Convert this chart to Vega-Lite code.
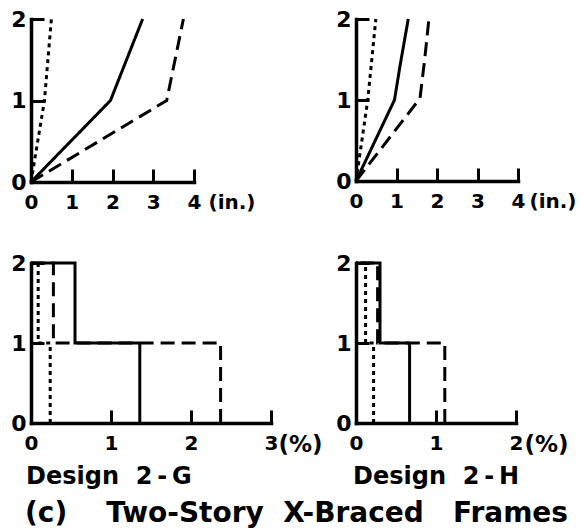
{
  "$schema": "https://vega.github.io/schema/vega-lite/v6.json",
  "background": "white",
  "padding": {"left": 10, "top": 8, "right": 4, "bottom": 0},
  "bounds": "flush",
  "columns": 2,
  "spacing": {"row": 81, "column": 85},
  "config": {
    "view": {"stroke": null},
    "axis": {
      "domainColor": "black", "domainWidth": 3.5, "domainCap": "square",
      "tickColor": "black", "tickWidth": 3, "tickSize": -13,
      "labelColor": "black", "labelFont": "DejaVu Sans", "labelFontSize": 20, "labelFontWeight": "bold",
      "labelFlush": false, "labelOverlap": false,
      "format": "d",
      "grid": false,
      "titleColor": "black", "titleFont": "DejaVu Sans", "titleFontSize": 20, "titleFontWeight": "bold"
    },
    "axisX": {"labelPadding": 23},
    "axisY": {"labelPadding": 18, "labelFontSize": 22},
    "title": {"color": "black", "font": "DejaVu Sans", "fontWeight": "bold"}
  },
  "title": {"text": "(c)\u00a0\u00a0\u00a0\u00a0Two-Story\u00a0\u00a0X-Braced\u00a0\u00a0\u00a0Frames", "orient": "bottom", "anchor": "start", "frame": "group", "dx": -6, "fontSize": 28, "offset": 11},
  "datasets": {
    "disp": [
      {"design": "2-G", "series": "dotted", "order": 0, "x": 0, "y": 0},
      {"design": "2-G", "series": "dotted", "order": 1, "x": 0.33, "y": 1},
      {"design": "2-G", "series": "dotted", "order": 2, "x": 0.5, "y": 2},
      {"design": "2-G", "series": "dashed", "order": 0, "x": 0, "y": 0},
      {"design": "2-G", "series": "dashed", "order": 1, "x": 3.33, "y": 1},
      {"design": "2-G", "series": "dashed", "order": 2, "x": 3.74, "y": 2},
      {"design": "2-G", "series": "solid", "order": 0, "x": 0, "y": 0},
      {"design": "2-G", "series": "solid", "order": 1, "x": 1.95, "y": 1},
      {"design": "2-G", "series": "solid", "order": 2, "x": 2.74, "y": 2},
      {"design": "2-H", "series": "dotted", "order": 0, "x": 0, "y": 0},
      {"design": "2-H", "series": "dotted", "order": 1, "x": 0.29, "y": 1},
      {"design": "2-H", "series": "dotted", "order": 2, "x": 0.49, "y": 2},
      {"design": "2-H", "series": "dashed", "order": 0, "x": 0, "y": 0},
      {"design": "2-H", "series": "dashed", "order": 1, "x": 1.58, "y": 1.02},
      {"design": "2-H", "series": "dashed", "order": 2, "x": 1.7, "y": 1.52},
      {"design": "2-H", "series": "dashed", "order": 3, "x": 1.8, "y": 2},
      {"design": "2-H", "series": "solid", "order": 0, "x": 0, "y": 0},
      {"design": "2-H", "series": "solid", "order": 1, "x": 0.95, "y": 1},
      {"design": "2-H", "series": "solid", "order": 2, "x": 1.09, "y": 1.43},
      {"design": "2-H", "series": "solid", "order": 3, "x": 1.29, "y": 2}
    ],
    "drift": [
      {"design": "2-G", "series": "dotted", "order": 0, "x": 0.24, "y": 0},
      {"design": "2-G", "series": "dotted", "order": 1, "x": 0.24, "y": 1},
      {"design": "2-G", "series": "dotted", "order": 2, "x": 0.09, "y": 1},
      {"design": "2-G", "series": "dotted", "order": 3, "x": 0.09, "y": 2},
      {"design": "2-G", "series": "dotted", "order": 4, "x": 0, "y": 2},
      {"design": "2-G", "series": "dashed", "order": 0, "x": 2.37, "y": 0},
      {"design": "2-G", "series": "dashed", "order": 1, "x": 2.37, "y": 1},
      {"design": "2-G", "series": "dashed", "order": 2, "x": 0.28, "y": 1},
      {"design": "2-G", "series": "dashed", "order": 3, "x": 0.28, "y": 2},
      {"design": "2-G", "series": "dashed", "order": 4, "x": 0, "y": 2},
      {"design": "2-G", "series": "solid", "order": 0, "x": 1.36, "y": 0},
      {"design": "2-G", "series": "solid", "order": 1, "x": 1.36, "y": 1},
      {"design": "2-G", "series": "solid", "order": 2, "x": 0.55, "y": 1},
      {"design": "2-G", "series": "solid", "order": 3, "x": 0.55, "y": 2},
      {"design": "2-G", "series": "solid", "order": 4, "x": 0, "y": 2},
      {"design": "2-H", "series": "dotted", "order": 0, "x": 0.22, "y": 0},
      {"design": "2-H", "series": "dotted", "order": 1, "x": 0.22, "y": 1},
      {"design": "2-H", "series": "dotted", "order": 2, "x": 0.12, "y": 1},
      {"design": "2-H", "series": "dotted", "order": 3, "x": 0.12, "y": 2},
      {"design": "2-H", "series": "dotted", "order": 4, "x": 0, "y": 2},
      {"design": "2-H", "series": "dashed", "order": 0, "x": 1.11, "y": 0},
      {"design": "2-H", "series": "dashed", "order": 1, "x": 1.11, "y": 1},
      {"design": "2-H", "series": "dashed", "order": 2, "x": 0.27, "y": 1},
      {"design": "2-H", "series": "dashed", "order": 3, "x": 0.27, "y": 2},
      {"design": "2-H", "series": "dashed", "order": 4, "x": 0, "y": 2},
      {"design": "2-H", "series": "solid", "order": 0, "x": 0.67, "y": 0},
      {"design": "2-H", "series": "solid", "order": 1, "x": 0.67, "y": 1},
      {"design": "2-H", "series": "solid", "order": 2, "x": 0.3, "y": 1},
      {"design": "2-H", "series": "solid", "order": 3, "x": 0.3, "y": 2},
      {"design": "2-H", "series": "solid", "order": 4, "x": 0, "y": 2}
    ]
  },
  "concat": [
    {
      "width": 163, "height": 163,
      "data": {"name": "disp"},
      "transform": [{"filter": "datum.design == '2-G'"}],
      "mark": {"type": "line", "color": "black", "strokeWidth": 3, "clip": false},
      "encoding": {
        "x": {"field": "x", "type": "quantitative", "scale": {"domain": [0, 4], "nice": false},
              "axis": {"values": [0, 1, 2, 3, 4], "title": "(in.)", "titleX": 177, "titleY": 10, "titleAlign": "left", "titleBaseline": "top", "titleAngle": 0}},
        "y": {"field": "y", "type": "quantitative", "scale": {"domain": [0, 2], "nice": false},
              "axis": {"values": [0, 1, 2], "title": null}},
        "strokeDash": {"field": "series", "type": "nominal", "scale": {"domain": ["solid", "dashed", "dotted"], "range": [[1, 0], [14, 7], [4, 4]]}, "legend": null},
        "order": {"field": "order", "type": "quantitative"}
      }
    },
    {
      "width": 162, "height": 162,
      "data": {"name": "disp"},
      "transform": [{"filter": "datum.design == '2-H'"}],
      "mark": {"type": "line", "color": "black", "strokeWidth": 3, "clip": false},
      "encoding": {
        "x": {"field": "x", "type": "quantitative", "scale": {"domain": [0, 4], "nice": false},
              "axis": {"values": [0, 1, 2, 3, 4], "title": "(in.)", "titleX": 173, "titleY": 10, "titleAlign": "left", "titleBaseline": "top", "titleAngle": 0}},
        "y": {"field": "y", "type": "quantitative", "scale": {"domain": [0, 2], "nice": false},
              "axis": {"values": [0, 1, 2], "title": null}},
        "strokeDash": {"field": "series", "type": "nominal", "scale": {"domain": ["solid", "dashed", "dotted"], "range": [[1, 0], [14, 7], [4, 4]]}, "legend": null},
        "order": {"field": "order", "type": "quantitative"}
      }
    },
    {
      "width": 240, "height": 160,
      "title": {"text": "Design\u00a0\u00a02\u2009-\u2009G", "orient": "bottom", "anchor": "start", "frame": "group", "dx": -5, "fontSize": 24, "offset": 9},
      "data": {"name": "drift"},
      "transform": [{"filter": "datum.design == '2-G'"}],
      "mark": {"type": "line", "color": "black", "strokeWidth": 3, "clip": false},
      "encoding": {
        "x": {"field": "x", "type": "quantitative", "scale": {"domain": [0, 3], "nice": false},
              "axis": {"values": [0, 1, 2, 3], "title": "(%)", "titleX": 247, "titleY": 10, "titleAlign": "left", "titleBaseline": "top", "titleAngle": 0, "titleFontSize": 23}},
        "y": {"field": "y", "type": "quantitative", "scale": {"domain": [0, 2], "nice": false},
              "axis": {"values": [0, 1, 2], "title": null}},
        "strokeDash": {"field": "series", "type": "nominal", "scale": {"domain": ["solid", "dashed", "dotted"], "range": [[1, 0], [14, 7], [4, 4]]}, "legend": null},
        "order": {"field": "order", "type": "quantitative"}
      }
    },
    {
      "width": 160, "height": 160,
      "title": {"text": "Design\u00a0\u00a02\u2009-\u2009H", "orient": "bottom", "anchor": "start", "frame": "group", "dx": -3, "fontSize": 24, "offset": 9},
      "data": {"name": "drift"},
      "transform": [{"filter": "datum.design == '2-H'"}],
      "mark": {"type": "line", "color": "black", "strokeWidth": 3, "clip": false},
      "encoding": {
        "x": {"field": "x", "type": "quantitative", "scale": {"domain": [0, 2], "nice": false},
              "axis": {"values": [0, 1, 2], "title": "(%)", "titleX": 168, "titleY": 10, "titleAlign": "left", "titleBaseline": "top", "titleAngle": 0, "titleFontSize": 23}},
        "y": {"field": "y", "type": "quantitative", "scale": {"domain": [0, 2], "nice": false},
              "axis": {"values": [0, 1, 2], "title": null}},
        "strokeDash": {"field": "series", "type": "nominal", "scale": {"domain": ["solid", "dashed", "dotted"], "range": [[1, 0], [14, 7], [4, 4]]}, "legend": null},
        "order": {"field": "order", "type": "quantitative"}
      }
    }
  ]
}
